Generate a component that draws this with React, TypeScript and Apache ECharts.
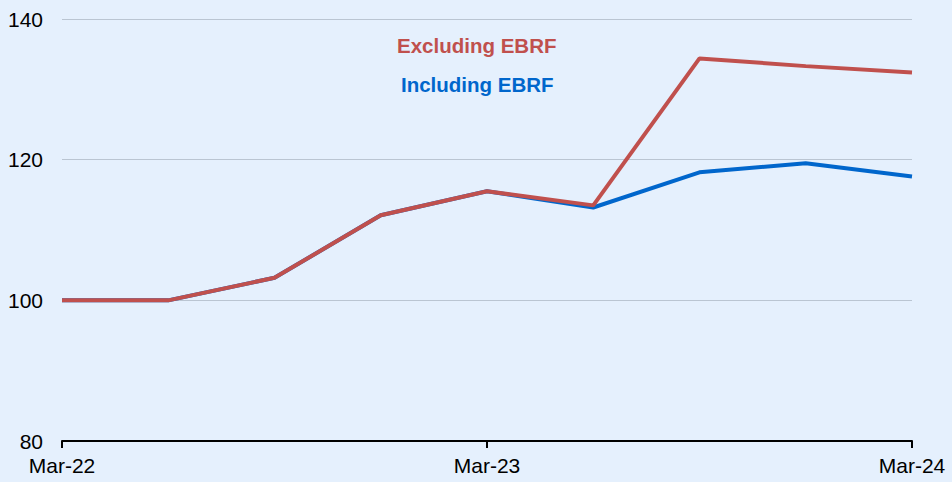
import React, { useEffect, useRef } from "react";
import * as echarts from "echarts";

const categories = ["Mar-22", "Jun-22", "Sep-22", "Dec-22", "Mar-23", "Jun-23", "Sep-23", "Dec-23", "Mar-24"];
const includingEBRF = [100, 100, 103.2, 112.1, 115.5, 113.2, 118.2, 119.5, 117.6];
const excludingEBRF = [100, 100, 103.2, 112.1, 115.5, 113.5, 134.4, 133.3, 132.4];
const yTicks = [80, 100, 120, 140];

export default function App() {
  const ref = useRef<HTMLDivElement>(null);
  useEffect(() => {
    if (!ref.current) return;
    const chart = echarts.init(ref.current, null, { renderer: "svg" });
    chart.setOption({
      animation: false,
      backgroundColor: "#E5F0FD",
      textStyle: { fontFamily: "Liberation Sans, Arial, sans-serif" },
      grid: { left: 62, right: 40, top: 19, bottom: 41, containLabel: false },
      xAxis: {
        type: "category",
        data: categories,
        boundaryGap: false,
        axisLine: { show: true, lineStyle: { color: "#000", width: 2 } },
        axisTick: { show: true, interval: 3, length: 7, lineStyle: { color: "#000", width: 2 } },
        axisLabel: { interval: 3, color: "#000", fontSize: 21, margin: 14 },
        splitLine: { show: false },
      },
      yAxis: {
        type: "value",
        min: yTicks[0],
        max: yTicks[yTicks.length - 1],
        interval: 20,
        axisLine: { show: false },
        axisTick: { show: false },
        axisLabel: { color: "#000", fontSize: 21, margin: 19 },
        splitLine: { lineStyle: { color: "#BAC5D2", width: 1 } },
      },
      graphic: [
        {
          type: "text",
          left: 397,
          top: 35,
          style: { text: "Excluding EBRF", fill: "#C0504D", fontSize: 20.5, fontWeight: "bold", fontFamily: "Liberation Sans, Arial, sans-serif" },
        },
        {
          type: "text",
          left: 401,
          top: 74,
          style: { text: "Including EBRF", fill: "#0066CC", fontSize: 20.5, fontWeight: "bold", fontFamily: "Liberation Sans, Arial, sans-serif" },
        },
      ],
      series: [
        {
          name: "Including EBRF",
          type: "line",
          data: includingEBRF,
          symbol: "none",
          lineStyle: { color: "#0066CC", width: 4 },
          itemStyle: { color: "#0066CC" },
        },
        {
          name: "Excluding EBRF",
          type: "line",
          data: excludingEBRF,
          symbol: "none",
          lineStyle: { color: "#C0504D", width: 4 },
          itemStyle: { color: "#C0504D" },
        },
      ],
    });
    return () => chart.dispose();
  }, []);
  return <div ref={ref} style={{ position: "absolute", left: 0, top: 0, width: 952, height: 482 }} />;
}
